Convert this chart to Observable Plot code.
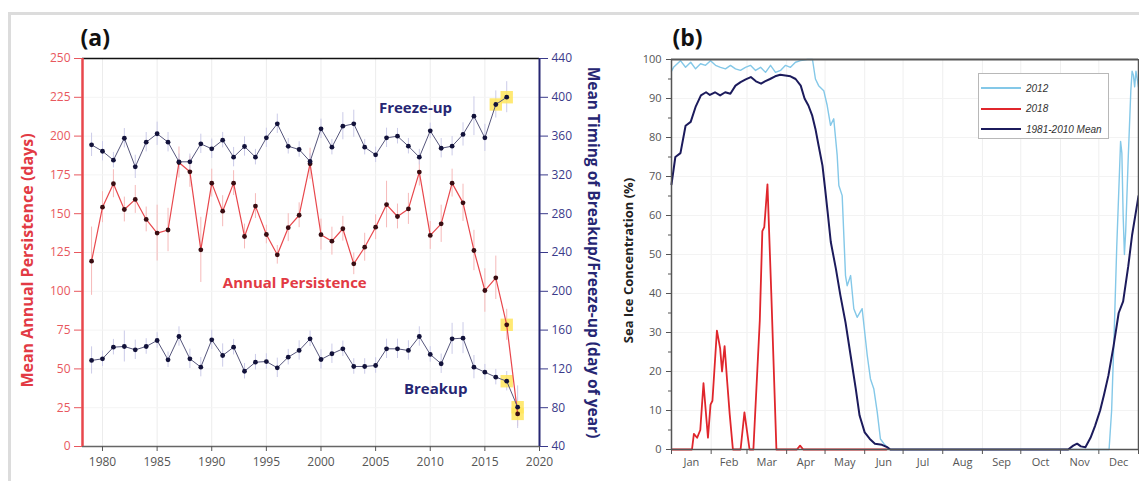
<!DOCTYPE html>
<html><head><meta charset="utf-8">
<script src="https://cdn.jsdelivr.net/npm/d3@7"></script>
<script src="https://cdn.jsdelivr.net/npm/@observablehq/plot@0.6"></script>
<style>
html,body{margin:0;padding:0;background:#fff;}
#wrap{position:relative;width:1139px;height:481px;overflow:hidden;font-family:"Open Sans",sans-serif;}
#frame{position:absolute;left:8px;top:12px;width:1150px;height:490px;border:3px solid #dcdcdc;box-sizing:border-box;}
#pa{position:absolute;left:0;top:0;}
#pb{position:absolute;left:610px;top:0;}
#legend{position:absolute;left:978px;top:73px;width:131px;height:66px;border:1px solid #b8b8b8;background:#fff;box-sizing:border-box;}
#legend .row{position:absolute;left:2px;height:14px;display:flex;align-items:center;font-family:"Liberation Sans",sans-serif;font-style:italic;font-size:10px;color:#333;}
</style></head>
<body><div id="wrap"><div id="frame"></div><div id="pa"></div><div id="pb"></div><div id="legend"></div></div>
<script>
// ---------- Panel (a) data ----------
const years = [1979,1980,1981,1982,1983,1984,1985,1986,1987,1988,1989,1990,1991,1992,1993,1994,1995,1996,1997,1998,
               1999,2000,2001,2002,2003,2004,2005,2006,2007,2008,2009,2010,2011,2012,2013,2014,2015,2016,2017,2018];
const persistence = [119.4,154.2,169.3,152.7,159.2,146.3,137.5,139.5,183,177,126.7,169.7,151.6,169.7,135.3,154.9,136.6,123.5,141,149,
                     182.2,136.5,132.3,140.3,117.7,128.4,141.3,155.9,148.2,153.1,176.8,136,143.5,169.7,157,126.3,100.5,108.7,78.4,21];
const persistErr = [22,10,9,8,9,8,18,14,10,10,21,9,10,8,8,8,6,6,9,8,10,10,9,8,7,9,8,15,8,10,9,9,12,9,12,13,14,14,10,8];
const freezeUp = [351,344.4,335.2,357.8,328.3,353.7,362.4,353.7,333.5,333.5,352,346.9,355.8,338.3,349.3,338.3,358.2,372.7,349.5,346.2,
                  333.8,367.5,348.6,370.2,372.7,348.6,340.7,358.2,359.9,349.6,338.3,365.4,347.5,349.6,361.7,380.5,358.2,392.6,400.1];
const freezeErr = [12,10,8,10,12,10,12,10,8,8,10,10,8,10,10,8,10,10,8,8,8,10,8,14,14,8,8,10,8,8,8,8,10,10,12,20,14,14,16];
const breakup = [128.7,130.4,142.4,143.1,139.7,143.1,149.3,129.4,153.4,130.4,121.8,150.0,133.8,142.4,117.6,126.9,127.6,121.1,132.1,139.0,
                 151.0,129.7,135.6,140.7,122.5,122.5,123.5,140.7,140.7,139.0,153.4,134.9,125.3,151.0,151.7,121.8,116.6,111.5,107.3,80.5];
const breakErr = [14,8,8,16,10,8,8,8,10,10,10,10,12,8,8,8,8,10,8,10,8,10,10,8,8,8,8,10,10,10,10,8,10,16,16,12,8,8,10,22];
const highlightPersist = [2017,2018];
const highlightFreeze = [2016,2017];
const highlightBreak = [2017,2018];
const yearTicks = [1980,1985,1990,1995,2000,2005,2010,2015,2020];
const persistTicks = [0,25,50,75,100,125,150,175,200,225,250];
const dayTicks = [40,80,120,160,200,240,280,320,360,400,440];

// ---------- Panel (b) data ----------
const months = ["Jan","Feb","Mar","Apr","May","Jun","Jul","Aug","Sep","Oct","Nov","Dec"];
const monthBounds = [0,31,59,90,120,151,181,212,243,273,304,334,365];
const concTicks = [0,10,20,30,40,50,60,70,80,90,100];
const concMinor = [5,15,25,35,45,55,65,75,85,95];
const days2012 = [0,1.6,7,11,15,18.8,22.7,26.6,30.5,34.4,38.3,42.2,46.1,50,53.9,57.8,61.7,65.7,69.6,73.5,
  77.4,81.3,85.2,89.1,93,96.9,100.8,106.3,110.2,112.5,115,119,121.7,124.3,126.8,129.5,130.8,133.4,136,137.3,
  140,142.5,145.1,149,153,155.5,158.1,160.8,163.3,166,168.6,171,342,344,346,348,350,351,352,353,
  354,355,357,359,360,361,362,363,364,365];
const conc2012 = [97,98,99.7,98,99.3,97.6,98.9,98.5,99.7,98.5,98,97.6,98.5,97.6,97.2,98,98.5,97.2,98,96.7,
  98.5,96.7,97.2,98.5,98,99.3,99.7,100,100,95,93.3,92,88.2,83.1,84.8,75.4,67.7,65.1,44.6,42,
  44.6,36.1,33.9,36.1,24.1,18.1,15.6,9.6,2.7,1.5,0.6,0,0,10,30,52,70,79,76,60,
  50,56,75,92,97,96,93,97,95,93];
const days2018 = [0,16,17.5,20,22.5,25,28.5,30.5,32,35.5,38,39.5,41.5,43.5,45.5,48,54,57,61,64,69,71,72.5,75,78,82,98,100.5,103,168];
const conc2018 = [0,0,4,3,5,17,3,11.5,12.5,30.5,26,20,26.5,17.5,9,0,0,9.5,0,0,33,56,57,68,40,0,0,1,0,0];
const daysMean = [0,3,7,11,15,19,23,27,30,34,38,42,46,50,54,58,62,66,70,73,77,81,85,89,93,97,101,104,107,110,
  112.5,115,118,120,122,124.5,128.5,132,136,140,144,147,151,155,159,164.5,168.5,171,310,314,
  317,320,323.5,327.5,331,335,338,341.5,345.5,349.5,353,357,360,364,365];
const concMean = [68,75,76,83,84,88,90.8,91.6,90.9,91.6,90.8,91.6,91.2,93.3,94.2,94.9,95.5,94.4,93.8,94.4,
  95,95.7,96.1,95.9,95.7,95,93.3,90,88.2,85.6,82.2,77.9,72.8,67,61,53.2,46.3,39.5,32.6,24.1,
  15.6,8.7,4.4,2.7,1.5,1.2,0.6,0,0,1,1.5,0.8,0.6,3,6,10,14,19,26.5,35,38,47,55,63,65];
const legendItems = [{label:"2012", color:"#84c8e8"},{label:"2018", color:"#e0262c"},{label:"1981-2010 Mean", color:"#1c1b5c"}];

// ---------- colours ----------
const RED = "#e8474c", RED_TXT = "#e23a44", NAVY = "#262673";

// ---------- Panel (a) ----------
const toLeft = v => (v - 40) / 1.6; // right axis (day of year) -> left axis units
const persistRows = years.map((y, i) => ({year: y, v: persistence[i], e: persistErr[i]}));
const freezeRows = freezeUp.map((v, i) => ({year: years[i], v: toLeft(v), lo: toLeft(v - freezeErr[i]), hi: toLeft(v + freezeErr[i])}));
const breakRows = breakup.map((v, i) => ({year: years[i], v: toLeft(v), lo: toLeft(v - breakErr[i]), hi: toLeft(v + breakErr[i])}));
const highlights = [
  ...persistRows.filter(d => highlightPersist.includes(d.year)),
  ...freezeRows.filter(d => highlightFreeze.includes(d.year)),
  ...breakRows.filter(d => highlightBreak.includes(d.year))
];
const xMin = 1978.17, xMax = 2020;
const annotations = [
  {label: "Freeze-up", year: 2008.65, value: 217.8},
  {label: "Breakup", year: 2010.5, value: 36.7}
];
const annotRed = [{label: "Annual Persistence", year: 1997.6, value: 105}];

const pa = Plot.plot({
  width: 610, height: 481,
  marginLeft: 82, marginRight: 71, marginTop: 58, marginBottom: 35,
  style: {background: "transparent", fontFamily: "'Open Sans', sans-serif", overflow: "visible"},
  x: {domain: [xMin, xMax], label: null},
  y: {domain: [0, 250], label: null},
  marks: [
    Plot.ruleX(yearTicks.slice(0, -1), {stroke: "#ececec"}),
    Plot.ruleY(persistTicks.slice(1, -1), {stroke: "#f4f4f4"}),
    Plot.ruleX(persistRows, {x: "year", y1: d => d.v - d.e, y2: d => d.v + d.e, stroke: "#f6b9b9"}),
    Plot.ruleX(freezeRows, {x: "year", y1: "lo", y2: "hi", stroke: "#cbcbe8"}),
    Plot.ruleX(breakRows, {x: "year", y1: "lo", y2: "hi", stroke: "#cbcbe8"}),
    Plot.dot(highlights, {x: "year", y: "v", r: 7, fill: "#ffe55c", fillOpacity: 0.85, symbol: "square"}),
    Plot.line(persistRows, {x: "year", y: "v", stroke: RED, strokeWidth: 1.2}),
    Plot.line(freezeRows, {x: "year", y: "v", stroke: "#56567c", strokeWidth: 1}),
    Plot.line(breakRows, {x: "year", y: "v", stroke: "#56567c", strokeWidth: 1}),
    Plot.dot(persistRows, {x: "year", y: "v", r: 2.4, fill: "#3a0d12"}),
    Plot.dot(freezeRows, {x: "year", y: "v", r: 2.4, fill: "#12123a"}),
    Plot.dot(breakRows, {x: "year", y: "v", r: 2.4, fill: "#12123a"}),
    Plot.ruleY([250], {stroke: "#111", strokeWidth: 1.5}),
    Plot.ruleY([0], {stroke: "#666", strokeWidth: 1.5}),
    Plot.ruleX([xMin], {stroke: RED, strokeWidth: 2.5}),
    Plot.ruleX([xMax], {stroke: NAVY, strokeWidth: 2}),
    Plot.axisX({ticks: yearTicks, tickFormat: d => String(d), tickSize: 5, tickPadding: 6, fontSize: 12, color: "#555", label: null}),
    Plot.axisY({ticks: persistTicks, anchor: "left", tickSize: 8, tickPadding: 4, fontSize: 12, color: "#e8585e", label: null}),
    Plot.axisY({ticks: dayTicks.map(toLeft), anchor: "right", tickSize: 8, tickPadding: 4, fontSize: 12, color: "#3a3a8a",
                tickFormat: d => String(Math.round(d * 1.6 + 40)), label: null}),
    Plot.text(annotations, {x: "year", y: "value", text: "label", fill: NAVY, fontSize: 15, fontWeight: "bold"}),
    Plot.text(annotRed, {x: "year", y: "value", text: "label", fill: RED_TXT, fontSize: 15, fontWeight: "bold"}),
    Plot.text(["Mean Annual Persistence (days)"], {frameAnchor: "left", textAnchor: "middle", lineAnchor: "middle", dx: -55, dy: 8, rotate: -90, fill: RED_TXT, fontSize: 16, fontWeight: "bold"}),
    Plot.text(["Mean Timing of Breakup/Freeze-up (day of year)"], {frameAnchor: "right", textAnchor: "middle", lineAnchor: "middle", dx: 53, rotate: 90, fill: NAVY, fontSize: 15.5, fontWeight: "bold"}),
    Plot.text(["(a)"], {frameAnchor: "top-left", textAnchor: "start", dx: -2, dy: -29, fontSize: 23, fontWeight: "bold", fill: "#111"})
  ]
});
document.getElementById("pa").appendChild(pa);

// ---------- Panel (b) ----------
const rows2012 = days2012.map((d, i) => ({day: d, v: conc2012[i]}));
const rows2018 = days2018.map((d, i) => ({day: d, v: conc2018[i]}));
const rowsMean = daysMean.map((d, i) => ({day: d, v: concMean[i]}));
const monthMids = months.map((m, i) => (monthBounds[i] + monthBounds[i + 1]) / 2);

const pb = Plot.plot({
  width: 529, height: 481,
  marginLeft: 61, marginRight: 1, marginTop: 59, marginBottom: 32,
  style: {background: "transparent", fontFamily: "'Open Sans', sans-serif", overflow: "visible"},
  x: {domain: [0, 365], label: null},
  y: {domain: [0, 100], label: null},
  marks: [
    Plot.ruleX(monthBounds.slice(1, -1), {stroke: "#efefef"}),
    Plot.ruleY(concTicks.slice(1, -1), {stroke: "#f3f3f3"}),
    Plot.line(rows2012, {x: "day", y: "v", stroke: "#84c8e8", strokeWidth: 1.4}),
    Plot.line(rowsMean, {x: "day", y: "v", stroke: "#1c1b5c", strokeWidth: 2}),
    Plot.line(rows2018, {x: "day", y: "v", stroke: "#e0262c", strokeWidth: 1.8}),
    Plot.ruleY([100], {stroke: "#555", strokeWidth: 2}),
    Plot.ruleY([0], {stroke: "#555", strokeWidth: 1.5}),
    Plot.ruleX([0], {stroke: "#555", strokeWidth: 1.5}),
    Plot.ruleX([365], {stroke: "#555", strokeWidth: 1.5}),
    Plot.axisY({ticks: concTicks, tickSize: 5, tickPadding: 5, fontSize: 11, color: "#555", label: null}),
    Plot.axisY({ticks: concMinor, tickSize: 3, tickFormat: () => "", color: "#555", label: null}),
    Plot.axisX({ticks: monthBounds, tickSize: 5, tickFormat: () => "", color: "#555", label: null}),
    Plot.axisX({ticks: monthMids, tickSize: 0, tickPadding: 9, fontSize: 11, color: "#555",
                tickFormat: d => months[monthMids.indexOf(d)], label: null}),
    Plot.text(["Sea Ice Concentration (%)"], {frameAnchor: "left", textAnchor: "middle", lineAnchor: "middle", dx: -43, dy: 6, rotate: -90, fill: "#222", fontSize: 13, fontWeight: "bold"}),
    Plot.text(["(b)"], {frameAnchor: "top-left", textAnchor: "start", dx: 1, dy: -30, fontSize: 23, fontWeight: "bold", fill: "#111"})
  ]
});
document.getElementById("pb").appendChild(pb);

// ---------- Legend ----------
const leg = d3.select("#legend");
legendItems.forEach((it, i) => {
  const row = leg.append("div").attr("class", "row").style("top", (7 + i * 20.5) + "px");
  const s = row.append("svg").attr("width", 42).attr("height", 6);
  s.append("line").attr("x1", 0).attr("x2", 40).attr("y1", 3).attr("y2", 3).attr("stroke", it.color).attr("stroke-width", 2);
  row.append("span").style("margin-left", "3px").text(it.label);
});
</script>
</body></html>
